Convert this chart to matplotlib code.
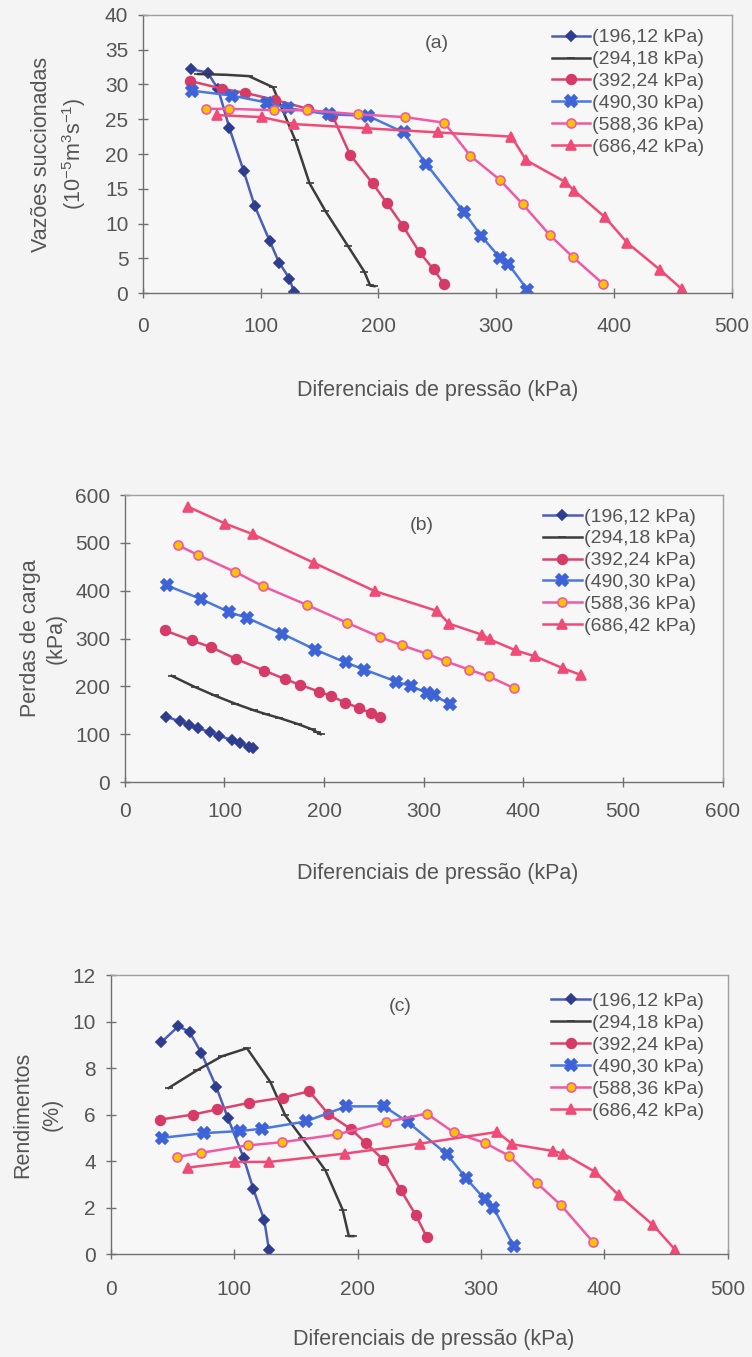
import numpy as np
import matplotlib
matplotlib.use('Agg')
import matplotlib.pyplot as plt

plt.rcParams['font.family'] = ['Liberation Sans', 'DejaVu Sans']
plt.rcParams['mathtext.fontset'] = 'custom'
plt.rcParams['mathtext.rm'] = 'Liberation Sans'

# Pressure differentials (kPa) for each supply pressure
x196 = [41, 55, 64, 73.5, 85.5, 95, 107.7, 115.6, 124.5, 128.3]
x294 = [47, 70, 90, 110.5, 129.4, 141.5, 155, 174, 188, 193, 196.6]
x392 = [40, 67, 86.5, 112, 140, 161, 176, 195, 207, 221, 235, 247, 256]
x490 = [42, 76, 105, 123, 158, 191, 221.5, 240.5, 272.5, 287.5, 303, 310, 326.5]
x588 = [53.5, 73, 111, 139, 183, 223, 256, 278, 303, 322.5, 345.5, 365, 391]
x686 = [63, 101, 128.5, 190, 251, 313, 325.5, 358.5, 366.5, 392.5, 411.5, 439.5, 457.5]

# (a) suction flow rates (10^-5 m3/s)
a196 = [32.2, 31.7, 29.3, 23.7, 17.6, 12.5, 7.5, 4.4, 2.1, 0.1]
a294 = [31.5, 31.4, 31.2, 29.6, 22.0, 15.8, 11.8, 6.8, 3.1, 1.1, 1.0]
a392 = [30.5, 29.4, 28.8, 27.8, 26.5, 25.5, 19.9, 15.8, 13.0, 9.6, 5.85, 3.4, 1.25]
a490 = [29.1, 28.4, 27.4, 26.6, 25.7, 25.5, 23.1, 18.6, 11.65, 8.2, 5.1, 4.25, 0.5]
a588 = [26.5, 26.5, 26.3, 26.3, 25.7, 25.3, 24.5, 19.75, 16.3, 12.8, 8.35, 5.2, 1.3]
a686 = [25.6, 25.3, 24.3, 23.7, 23.1, 22.5, 19.1, 16.0, 14.7, 10.9, 7.2, 3.3, 0.6]

# (b) head losses (kPa)
b196 = [137, 127, 120, 113, 104, 97, 87, 81, 74, 71]
b294 = [222, 199, 181, 164, 150, 142, 134, 121, 110, 104, 100]
b392 = [317, 296, 282, 257, 233, 215, 203, 189, 180, 166, 155, 144, 137]
b490 = [411, 383, 355, 343, 310, 277, 250, 235, 210, 200, 187, 181, 163]
b588 = [495, 475, 439, 409, 370, 333, 303, 286, 268, 252, 235, 221, 196]
b686 = [576, 540, 518, 458, 399, 358, 331, 308, 298, 275, 263, 238, 224]

# (c) efficiencies (%)
c196 = [9.1, 9.8, 9.55, 8.65, 7.2, 5.85, 4.15, 2.8, 1.45, 0.17]
c294 = [7.14, 7.9, 8.5, 8.85, 7.4, 5.96, 5.0, 3.6, 1.9, 0.77, 0.77]
c392 = [5.78, 6.0, 6.22, 6.5, 6.73, 7.0, 6.04, 5.36, 4.76, 4.05, 2.76, 1.69, 0.74]
c490 = [5.0, 5.2, 5.29, 5.39, 5.7, 6.35, 6.35, 5.68, 4.29, 3.29, 2.35, 2.0, 0.34]
c588 = [4.17, 4.35, 4.67, 4.81, 5.14, 5.67, 6.04, 5.23, 4.78, 4.23, 3.04, 2.09, 0.5]
c686 = [3.72, 3.96, 3.96, 4.32, 4.75, 5.25, 4.72, 4.43, 4.32, 3.53, 2.53, 1.24, 0.17]

labels = ['(196,12 kPa)', '(294,18 kPa)', '(392,24 kPa)',
          '(490,30 kPa)', '(588,36 kPa)', '(686,42 kPa)']
xs = [x196, x294, x392, x490, x588, x686]

# line colour, marker, marker face, marker edge, marker size
styles = [
    dict(color='#4a5fb8', marker='D', mfc='#2f3d8f', mec='#2f3d8f', ms=5.5),
    dict(color='#3c3c3c', marker='_', mfc='#3c3c3c', mec='#3c3c3c', ms=6),
    dict(color='#dc4470', marker='o', mfc='#d63a66', mec='#d63a66', ms=7),
    dict(color='#4a78e0', marker='X', mfc='#3d63d6', mec='#3d63d6', ms=8),
    dict(color='#ef5aa2', marker='o', mfc='#f7c400', mec='#ef5aa2', ms=6.5),
    dict(color='#f04a76', marker='^', mfc='#f04a76', mec='#f04a76', ms=7.5),
]

TXT = '#555555'
FS = 14


def draw_panel(ax, ys, letter, xmax, ymax, ystep, ylabel, ylab_x, ylab_ls,
               xlab_y, xlab_x, xpad, leg_anchor):
    for x, y, lab, st in zip(xs, ys, labels, styles):
        ax.plot(x, y, color=st['color'], lw=1.8, marker=st['marker'],
                markerfacecolor=st['mfc'], markeredgecolor=st['mec'],
                markeredgewidth=1.2, markersize=st['ms'], label=lab)

    ax.set_xlim(0, xmax)
    ax.set_ylim(0, ymax)
    ax.set_xticks(np.arange(0, xmax + 1, 100))
    ax.set_yticks(np.arange(0, ymax + ystep / 2, ystep))
    ax.set_facecolor('#f7f7f7')

    for side in ['top', 'right']:
        ax.spines[side].set_color('#a0a0a0')
        ax.spines[side].set_linewidth(1.0)
    for side in ['left', 'bottom']:
        ax.spines[side].set_color('#707070')
        ax.spines[side].set_linewidth(1.0)

    ax.tick_params(axis='both', direction='inout', length=7, width=1,
                   color='#707070', labelsize=15, labelcolor=TXT)
    ax.tick_params(axis='x', pad=xpad)
    ax.tick_params(axis='y', pad=7)

    ax.set_xlabel('Diferenciais de pressão (kPa)', fontsize=15.5, color=TXT)
    ax.xaxis.set_label_coords(xlab_x, xlab_y)
    ax.xaxis.label.set_va('center')
    ax.set_ylabel(ylabel, fontsize=15.5, color=TXT, linespacing=ylab_ls,
                  multialignment='center')
    ax.yaxis.set_label_coords(ylab_x, 0.5)
    ax.yaxis.label.set_va('center')

    ax.text(letter[1], letter[2], letter[0], transform=ax.transAxes,
            fontsize=FS, color=TXT, ha='center', va='center')

    ax.legend(loc='upper left', bbox_to_anchor=leg_anchor, frameon=False,
              fontsize=FS, labelcolor=TXT, handlelength=2.0,
              handletextpad=0.1, labelspacing=0.22, borderpad=0,
              borderaxespad=0)


fig = plt.figure(figsize=(7.52, 13.57), dpi=100, facecolor='#f4f4f4')

ax_a = fig.add_axes([0.190, 0.784, 0.783, 0.205])
ax_b = fig.add_axes([0.166, 0.4237, 0.795, 0.2115])
ax_c = fig.add_axes([0.147, 0.0759, 0.821, 0.2056])

draw_panel(ax_a, [a196, a294, a392, a490, a588, a686], ('(a)', 0.499, 0.899),
           500, 40, 5,
           'Vazões succionadas\n(10$^{\\mathregular{-5}}$m$^{\\mathregular{3}}$s$^{\\mathregular{-1}}$)',
           -0.141, 1.4, -0.349, 0.5, 14, (0.694, 0.950))
draw_panel(ax_b, [b196, b294, b392, b490, b588, b686], ('(b)', 0.496, 0.895),
           600, 600, 100, 'Perdas de carga\n(kPa)',
           -0.137, 1.3, -0.317, 0.523, 11, (0.699, 0.955))
draw_panel(ax_c, [c196, c294, c392, c490, c588, c686], ('(c)', 0.469, 0.886),
           500, 12, 2, 'Rendimentos\n(%)',
           -0.118, 1.5, -0.308, 0.523, 15, (0.714, 0.937))

fig.savefig('out.png', dpi=100, facecolor=fig.get_facecolor())
